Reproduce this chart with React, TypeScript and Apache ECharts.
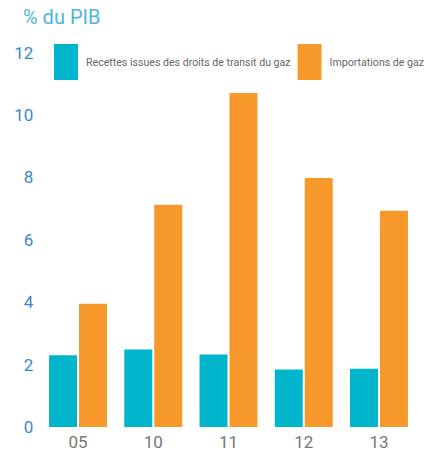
import React, { useEffect, useRef } from "react";
import * as echarts from "echarts";

const categories = ["05", "10", "11", "12", "13"];
const transitRevenue = [2.3, 2.48, 2.32, 1.84, 1.87];
const gasImports = [3.95, 7.12, 10.7, 7.98, 6.93];
const yTicks = { min: 0, max: 12, interval: 2 };

const TEAL = "#00b5cc";
const ORANGE = "#f7982a";

export default function App() {
  const ref = useRef<HTMLDivElement>(null);

  useEffect(() => {
    if (!ref.current) return;
    const chart = echarts.init(ref.current, null, { renderer: "svg" });
    chart.setOption({
      animation: false,
      title: {
        text: "% du PIB",
        left: 18,
        top: 2,
        textStyle: {
          color: "#4db8d6",
          fontSize: 20,
          fontWeight: "normal",
          fontFamily: "Roboto, sans-serif",
        },
      },
      legend: {
        left: 54,
        top: 44,
        width: 392,
        orient: "horizontal",
        padding: 0,
        itemWidth: 24,
        itemHeight: 36,
        itemGap: 7,
        icon: "rect",
        textStyle: {
          color: "#666",
          fontSize: 10.6,
          fontFamily: "Roboto, sans-serif",
          padding: [0, 0, 14, 3],
        },
        data: ["Recettes issues des droits de transit du gaz", "Importations de gaz"],
      },
      grid: { left: 40.4, right: 29.4, top: 52.5, bottom: 22.5, containLabel: false },
      xAxis: {
        type: "category",
        data: categories,
        axisLine: { show: false },
        axisTick: { show: false },
        axisLabel: {
          color: "#777",
          fontSize: 17,
          fontFamily: "Roboto, sans-serif",
          margin: 6,
        },
      },
      yAxis: {
        type: "value",
        min: yTicks.min,
        max: yTicks.max,
        interval: yTicks.interval,
        splitLine: { show: false },
        axisLine: { show: false },
        axisTick: { show: false },
        axisLabel: {
          color: "#3a87c8",
          fontSize: 17,
          fontFamily: "Roboto, sans-serif",
          margin: 7,
        },
      },
      series: [
        {
          name: "Recettes issues des droits de transit du gaz",
          type: "bar",
          data: transitRevenue,
          barWidth: 28,
          barGap: "7%",
          itemStyle: { color: TEAL },
        },
        {
          name: "Importations de gaz",
          type: "bar",
          data: gasImports,
          barWidth: 28,
          itemStyle: { color: ORANGE },
        },
      ],
    });
    return () => chart.dispose();
  }, []);

  return (
    <div
      ref={ref}
      style={{ position: "absolute", left: 0, top: 0, width: 446, height: 450 }}
    />
  );
}
